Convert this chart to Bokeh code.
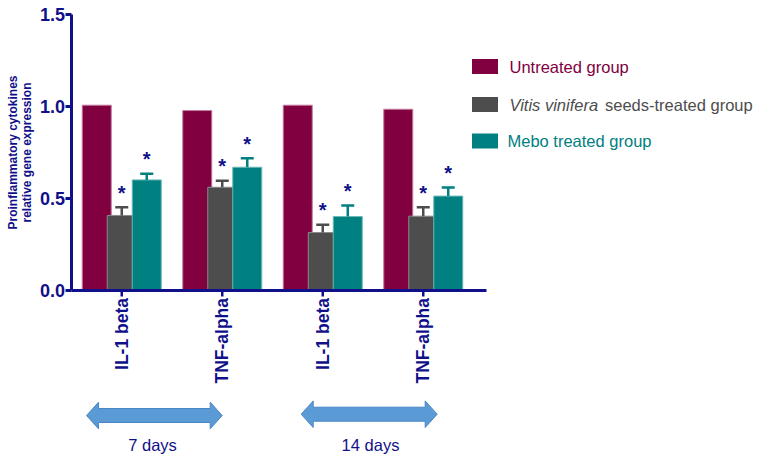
import numpy as np
from bokeh.plotting import figure
from bokeh.models import Range1d
from bokeh.core.properties import value
from bokeh.embed import file_html
from bokeh.resources import INLINE

# ---------------- data ----------------
categories = ["IL-1 beta", "TNF-alpha", "IL-1 beta", "TNF-alpha"]
periods = ["7 days", "14 days"]
untreated = [1.007, 0.978, 1.007, 0.985]
vitis = [0.408, 0.561, 0.315, 0.404]
vitis_err = [0.045, 0.035, 0.042, 0.049]
mebo = [0.601, 0.670, 0.402, 0.513]
mebo_err = [0.033, 0.049, 0.060, 0.047]
y_ticks = [0.0, 0.5, 1.0, 1.5]
y_tick_labels = ["0.0", "0.5", "1.0", "1.5"]
y_title = ["Proinflammatory cytokines", "relative gene expression"]
series_names = ["Untreated group", "Vitis vinifera", "seeds-treated group", "Mebo treated group"]

# ---------------- styling ----------------
NAVY = "#10108a"
RED = "#800040"
GRAY = "#4d4d4d"
TEAL = "#008080"
FONT = value("Liberation Sans")

W, H = 764, 457
AX_X = 71                # px of the y axis (value-axis origin in x)
PX_PER_X = 100.5         # px per category unit
PX_PER_Y = 184.0         # px per 1.0 of expression
Y0 = 290                 # px of value 0


def ux(px):
    return (px - AX_X) / PX_PER_X


def vy(py):
    return (Y0 - py) / PX_PER_Y


def dx(px):
    return px / PX_PER_X


def dy(px):
    return px / PX_PER_Y


p = figure(width=W, height=H, output_backend="svg", toolbar_location=None,
           x_axis_location=None, y_axis_location=None,
           x_range=Range1d(ux(0), ux(W)),
           y_range=Range1d(vy(H), vy(0)),
           min_border=0)
p.outline_line_color = None
p.xgrid.visible = False
p.ygrid.visible = False
p.background_fill_color = "white"

# ---------------- y axis (drawn) ----------------
p.segment(x0=[0], y0=[0], x1=[0], y1=[max(y_ticks)], line_color=NAVY, line_width=3)
p.segment(x0=-dx(6), y0=y_ticks, x1=0, y1=y_ticks, line_color=NAVY, line_width=3)
p.text(x=-dx(6.5), y=y_ticks, text=y_tick_labels, text_align="right",
       text_baseline="middle", text_font=FONT, text_font_style="bold",
       text_font_size="18px", text_color=NAVY)
p.text(x=[ux(12), ux(26)], y=[vy(152), vy(152)], text=y_title, angle=np.pi / 2,
       text_align="center", text_baseline="middle", text_font=FONT,
       text_font_style="bold", text_font_size="12px", text_color=NAVY)

# ---------------- bars ----------------
groups = np.arange(len(categories)) + 0.5
off = dx(25)
bw = dx(29)

p.vbar(x=groups - off, top=untreated, bottom=0, width=bw, fill_color=RED,
       line_color="#c47a9f", line_width=1)
p.vbar(x=groups, top=vitis, bottom=0, width=bw, fill_color=GRAY,
       line_color="#8a8a8a", line_width=1)
p.vbar(x=groups + off, top=mebo, bottom=0, width=bw, fill_color=TEAL,
       line_color="#6fb8b8", line_width=1)

# error bars (upper only) and stars
cap = dx(6.5)
for xs, vals, errs, col in [(groups, vitis, vitis_err, GRAY),
                            (groups + off, mebo, mebo_err, TEAL)]:
    tops = np.array(vals) + np.array(errs)
    p.segment(x0=xs, y0=vals, x1=xs, y1=tops, line_color=col, line_width=2.5)
    p.segment(x0=xs - cap, y0=tops, x1=xs + cap, y1=tops, line_color=col, line_width=2.5)
    p.text(x=xs, y=tops + dy(14.5), text=["*"] * len(xs), text_align="center",
           text_baseline="middle", text_font=FONT, text_font_style="bold",
           text_font_size="20px", text_color=NAVY)

# ---------------- x axis (drawn) ----------------
p.segment(x0=[0], y0=[0], x1=[ux(486)], y1=[0], line_color=NAVY, line_width=3)
p.segment(x0=groups, y0=0, x1=groups, y1=-dy(6), line_color=NAVY, line_width=2.5)
p.text(x=groups, y=-dy(7.5), text=categories, angle=np.pi / 2, text_align="right",
       text_baseline="middle", text_font=FONT, text_font_style="bold",
       text_font_size="17.5px", text_color=NAVY)

# ---------------- period arrows ----------------
def arrow(x0, x1, yc, head=12, half=13.3, shaft=7):
    xs = [x0, x0 + head, x0 + head, x1 - head, x1 - head, x1, x1 - head, x1 - head, x0 + head, x0 + head]
    ys = [yc, yc - half, yc - shaft, yc - shaft, yc - half, yc, yc + half, yc + shaft, yc + shaft, yc + half]
    return [ux(v) for v in xs], [vy(v) for v in ys]

for (ax0, ax1, ayc), label, lx in [((86, 221.7, 415), periods[0], 152),
                                   ((300.7, 436.7, 413.7), periods[1], 370)]:
    axs, ays = arrow(ax0, ax1, ayc)
    p.patch(axs, ays, fill_color="#5b9bd5", line_color="#4a86c5", line_width=1)
    p.text(x=[ux(lx)], y=[vy(444)], text=[label], text_align="center",
           text_baseline="middle", text_font=FONT, text_font_size="16.5px",
           text_color=NAVY)

# ---------------- legend (drawn) ----------------
leg_rows = [(66, RED), (104, GRAY), (140.5, TEAL)]
for (yc, col) in leg_rows:
    p.quad(left=[ux(471.5)], right=[ux(497.5)], top=[vy(yc - 7.5)], bottom=[vy(yc + 7.5)],
           fill_color=col, line_color=None)

p.text(x=[ux(509)], y=[vy(66)], text=[series_names[0]], text_align="left",
       text_baseline="middle", text_font=FONT, text_font_size="16.5px", text_color=RED)
p.text(x=[ux(509)], y=[vy(104)], text=[series_names[1]], text_align="left",
       text_baseline="middle", text_font=FONT, text_font_style="italic",
       text_font_size="16.5px", text_color=GRAY)
p.text(x=[ux(604.5)], y=[vy(104)], text=[series_names[2]], text_align="left",
       text_baseline="middle", text_font=FONT, text_font_size="16.5px", text_color=GRAY)
p.text(x=[ux(507)], y=[vy(140.5)], text=[series_names[3]], text_align="left",
       text_baseline="middle", text_font=FONT, text_font_size="16.5px", text_color=TEAL)

open("out.html", "w").write(file_html(p, INLINE))
